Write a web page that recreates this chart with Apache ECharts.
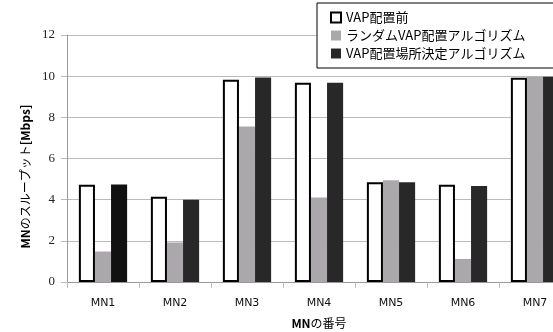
<!DOCTYPE html>
<html>
<head>
<meta charset="utf-8">
<script src="https://cdn.jsdelivr.net/npm/echarts@6/dist/echarts.min.js"></script>
<style>
html, body { margin: 0; padding: 0; background: #fff; }
#myChart { width: 553px; height: 332px; }
</style>
</head>
<body>
<div id="myChart"></div>
<script>
/* MNごとのスループット */
var categories = ['MN1', 'MN2', 'MN3', 'MN4', 'MN5', 'MN6', 'MN7'];
var seriesNames = ['VAP配置前', 'ランダムVAP配置アルゴリズム', 'VAP配置場所決定アルゴリズム'];
var beforeData = [4.72, 4.14, 9.83, 9.68, 4.85, 4.72, 9.92];
var randomData = [1.48, 1.92, 7.55, 4.1, 4.94, 1.12, 9.97];
var proposedData = [4.74, 3.99, 9.93, 9.68, 4.85, 4.67, 9.97];
var yTicks = [0, 2, 4, 6, 8, 10, 12];

var jpFont = '"Noto Sans CJK JP", sans-serif';
var myChart = echarts.init(document.getElementById('myChart'));

// MN1だけ少し濃い黒
var proposedItems = proposedData.map(function (v, i) {
    return i == 0 ? { value: v, itemStyle: { color: '#111111' } } : v;
});

var option = {
    animation: false,
    backgroundColor: '#fff',
    grid: {
        left: 67,
        top: 35,
        width: 504,
        height: 247,
        containLabel: false,
        outerBoundsMode: 'none'
    },
    legend: {
        orient: 'vertical',
        left: 317,
        top: 3,
        width: 234,
        padding: [8, 80, 8, 13],
        itemGap: 5,
        itemWidth: 10,
        itemHeight: 10,
        backgroundColor: '#fff',
        borderColor: '#000',
        borderWidth: 1,
        textStyle: { fontFamily: jpFont, fontSize: 13, color: '#000' },
        data: seriesNames.map(function (n) { return { name: n, icon: 'rect' }; })
    },
    xAxis: {
        type: 'category',
        data: categories,
        name: '{b|MN}の番号',
        nameLocation: 'middle',
        nameGap: 35,
        nameTextStyle: {
            fontFamily: jpFont, fontSize: 12, color: '#000',
            rich: { b: { fontFamily: jpFont, fontSize: 12, fontWeight: 'bold', color: '#000' } }
        },
        axisLine: { lineStyle: { color: '#999' } },
        axisTick: { show: true, length: 6, lineStyle: { color: '#bbb' } },
        axisLabel: { fontFamily: '"DejaVu Sans", sans-serif', fontSize: 11, color: '#111', margin: 16 }
    },
    yAxis: {
        type: 'value',
        min: 0,
        max: 12,
        interval: 2,
        name: '{b|MN}のスループット{b|[Mbps]}',
        nameLocation: 'middle',
        nameGap: 32,
        nameRotate: 90,
        nameTextStyle: {
            fontFamily: jpFont, fontSize: 12, color: '#000',
            padding: [0, 36, 0, 0],
            rich: { b: { fontFamily: jpFont, fontSize: 12, fontWeight: 'bold', color: '#000' } }
        },
        axisLine: { show: true, lineStyle: { color: '#999' } },
        axisTick: { show: true, length: 6, lineStyle: { color: '#bbb' } },
        axisLabel: {
            fontFamily: '"Liberation Serif", serif', fontSize: 13, color: '#222', margin: 12,
            formatter: function (v) { return yTicks.indexOf(v) > -1 ? String(v) : ''; }
        },
        splitLine: { lineStyle: { color: '#bbb' } }
    },
    series: [{
        name: seriesNames[0],
        type: 'bar',
        data: beforeData,
        barGap: '0%',
        barCategoryGap: '33%',
        itemStyle: { color: '#fff', borderColor: '#000', borderWidth: 2 }
    }, {
        name: seriesNames[1],
        type: 'bar',
        data: randomData,
        barGap: '0%',
        barCategoryGap: '33%',
        itemStyle: { color: '#aba8ac' }
    }, {
        name: seriesNames[2],
        type: 'bar',
        data: proposedItems,
        barGap: '0%',
        barCategoryGap: '33%',
        itemStyle: { color: '#282828' }
    }]
};

myChart.setOption(option);
</script>
</body>
</html>
